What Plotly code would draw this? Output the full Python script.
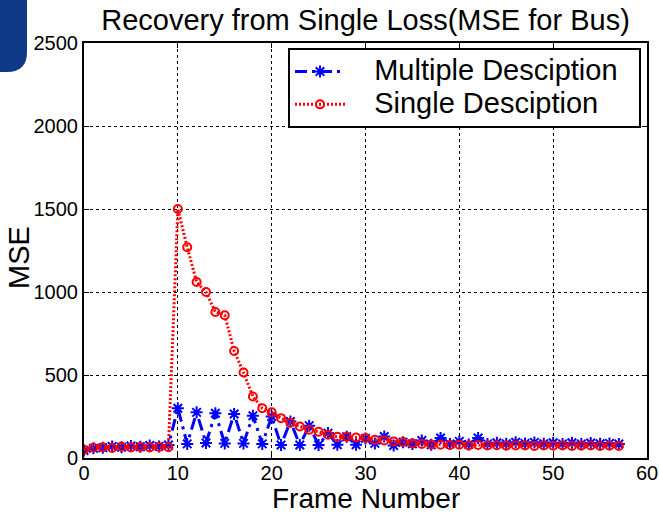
import plotly.graph_objects as go

# Frame index and MSE per frame after a single lost frame
frames = list(range(58))

mse_multiple = [45, 58, 62, 70, 65, 72, 68, 75, 70, 78,
                300, 85, 275, 90, 270, 88, 265, 88, 255, 85,
                250, 78, 220, 78, 195, 78, 150, 80, 128, 80,
                118, 88, 130, 75, 95, 85, 105, 80, 120, 85,
                100, 82, 120, 85, 92, 86, 95, 88, 94, 86,
                92, 85, 92, 84, 90, 86, 88, 84]

mse_single = [50, 62, 65, 60, 68, 63, 66, 64, 67, 65,
              1500, 1270, 1060, 1000, 880, 860, 645, 515, 370, 300,
              275, 240, 212, 190, 170, 158, 140, 128, 128, 124,
              120, 110, 106, 100, 96, 88, 85, 82, 80, 78,
              80, 76, 78, 75, 77, 74, 76, 75, 73, 76,
              74, 75, 73, 74, 75, 72, 74, 73]

x_ticks = [0, 10, 20, 30, 40, 50, 60]
y_ticks = [0, 500, 1000, 1500, 2000, 2500]

FONT = "Liberation Sans, Arial, sans-serif"
W, H = 659, 513
L, R, T, B = 84, 12, 43, 55
pw, ph = W - L - R, H - T - B


def px_to_paper(x, y):
    return (x - L) / pw, (H - B - y) / ph


def legend_label(text):
    # larger text than the legend's row spacing font, padded with spaces
    pad_l = "\u00a0" * 3
    pad_r = "\u00a0" * 2
    return f'<span style="font-size:29px">{pad_l}{text}{pad_r}</span>'


fig = go.Figure()

fig.add_trace(go.Scatter(
    x=frames, y=mse_multiple, name=legend_label("Multiple Desciption"),
    mode="lines+markers",
    line=dict(color="#0000ff", width=3, dash="12px,5px,3px,5px"),
    marker=dict(symbol="asterisk-open", size=10, color="#0000ff",
                line=dict(color="#0000ff", width=2)),
))
fig.add_trace(go.Scatter(
    x=frames, y=mse_single, name=legend_label("Single Desciption"),
    mode="lines+markers",
    line=dict(color="#ff0000", width=3, dash="2px,2px"),
    marker=dict(symbol="circle-open", size=8, color="#ff0000",
                line=dict(color="#ff0000", width=2)),
))

# Corner tab in the page's top-left
p0 = px_to_paper(0, 0)
p1 = px_to_paper(27, 0)
p2 = px_to_paper(27, 52)
c = px_to_paper(27, 72)
e = px_to_paper(7, 72)
f = px_to_paper(0, 72)
path = (f"M {p0[0]},{p0[1]} L {p1[0]},{p1[1]} L {p2[0]},{p2[1]} "
        f"Q {c[0]},{c[1]} {e[0]},{e[1]} L {f[0]},{f[1]} Z")
fig.add_shape(type="path", path=path, xref="paper", yref="paper",
              fillcolor="#0f3a87", line=dict(width=0), layer="above")

axis_common = dict(
    showline=True, linecolor="black", linewidth=2, mirror="ticks",
    ticks="inside", ticklen=5, tickwidth=1, tickcolor="black",
    showgrid=True, gridcolor="black", gridwidth=1, griddash="dot",
    zeroline=False, automargin=False,
    tickfont=dict(family=FONT, size=20, color="black"),
)

fig.update_xaxes(range=[0, 60], tickvals=x_ticks, ticklabelstandoff=-4, **axis_common)
fig.update_yaxes(range=[0, 2500], tickvals=y_ticks, **axis_common)

# Axis titles
xt = px_to_paper(365, 498)
yt = px_to_paper(19, 258)
fig.add_annotation(text="Frame Number", x=0.5, y=xt[1], xref="paper", yref="paper",
                   xanchor="center", yanchor="middle", showarrow=False, height=28,
                   font=dict(family=FONT, size=28, color="black"))
fig.add_annotation(text="MSE", x=yt[0], y=yt[1], xref="paper", yref="paper",
                   xanchor="center", yanchor="middle", showarrow=False, textangle=-90,
                   font=dict(family=FONT, size=29, color="black"))

lx, ly = px_to_paper(641, 48)
fig.update_layout(
    width=W, height=H,
    margin=dict(l=L, r=R, t=T, b=B, autoexpand=False),
    paper_bgcolor="white", plot_bgcolor="white",
    title=dict(text="Recovery from Single Loss(MSE for Bus)",
               x=0.5, xref="paper", y=1 - 20 / H, yref="container",
               xanchor="center", yanchor="middle",
               font=dict(family=FONT, size=29, color="black")),
    legend=dict(x=lx, y=ly, xanchor="right", yanchor="top",
                bgcolor="white", bordercolor="black", borderwidth=2,
                itemwidth=50,
                font=dict(family=FONT, size=23, color="black")),
    showlegend=True,
)

fig.write_html("out.html")
